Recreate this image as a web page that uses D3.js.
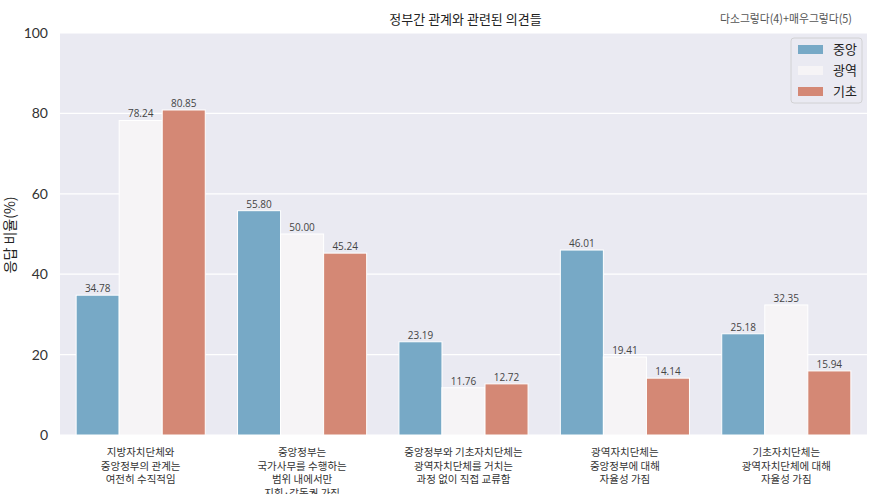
<!DOCTYPE html>
<html><head><meta charset="utf-8">
<script src="https://cdn.jsdelivr.net/npm/d3@7"></script>
<style>body{margin:0;background:#fff;} svg{display:block;font-family:"Noto Sans CJK KR","Noto Sans",sans-serif;}</style>
</head><body>
<svg id="c" width="886" height="494"></svg>
<script>
const categories = [
  ["지방자치단체와","중앙정부의 관계는","여전히 수직적임"],
  ["중앙정부는","국가사무를 수행하는","범위 내에서만","지휘·감독권 가짐"],
  ["중앙정부와 기초자치단체는","광역자치단체를 거치는","과정 없이 직접 교류함"],
  ["광역자치단체는","중앙정부에 대해","자율성 가짐"],
  ["기초자치단체는","광역자치단체에 대해","자율성 가짐"]
];
const seriesNames = ["중앙","광역","기초"];
const central = [34.78, 55.80, 23.19, 46.01, 25.18];
const regional = [78.24, 50.00, 11.76, 19.41, 32.35];
const basic = [80.85, 45.24, 12.72, 14.14, 15.94];
const colors = ["#77a9c6","#f6f4f6","#d48875"];
const yTicks = [0,20,40,60,80,100];
const title = "정부간 관계와 관련된 의견들";
const note = "다소그렇다(4)+매우그렇다(5)";
const yLabel = "응답 비율(%)";

const series = [central, regional, basic];
const svg = d3.select("#c");
const L=60, R=867, T=33, B=435;
const x0 = d3.scaleBand().domain(d3.range(categories.length)).range([L,R]).paddingInner(0.2).paddingOuter(0.1);
const x1 = d3.scaleBand().domain(d3.range(3)).range([0,x0.bandwidth()]);
const y = d3.scaleLinear().domain([0,100]).range([B,T]);

svg.append("rect").attr("x",L).attr("y",T).attr("width",R-L).attr("height",B-T).attr("fill","#eaeaf2");
svg.append("g").selectAll("line").data(yTicks).join("line")
  .attr("x1",L).attr("x2",R).attr("y1",d=>y(d)).attr("y2",d=>y(d)).attr("stroke","#fff").attr("stroke-width",1.2);

const yAxis = d3.axisLeft(y).tickValues(yTicks).tickSize(0).tickPadding(12);
const ga = svg.append("g").attr("transform",`translate(${L},0)`).call(yAxis);
ga.select(".domain").remove();
ga.selectAll("text").attr("font-size",14).attr("fill","#333").attr("font-family","Lato, 'Noto Sans', sans-serif");

const groups = svg.append("g").selectAll("g").data(categories).join("g")
  .attr("transform",(d,i)=>`translate(${x0(i)},0)`);
groups.each(function(cat,i){
  const g = d3.select(this);
  series.forEach((s,j)=>{
    g.append("rect").attr("x",x1(j)).attr("width",x1.bandwidth())
      .attr("y",y(s[i])).attr("height",B-y(s[i]))
      .attr("fill",colors[j]).attr("stroke","#fff").attr("stroke-width",1);
    g.append("text").attr("x",x1(j)+x1.bandwidth()/2).attr("y",y(s[i])-3)
      .attr("text-anchor","middle").attr("font-size",10).attr("fill","#444")
      .attr("font-family","'Open Sans','Noto Sans',sans-serif")
      .text(s[i].toFixed(2));
  });
  const t = g.append("text").attr("text-anchor","middle").attr("font-size",10.5).attr("fill","#333");
  cat.forEach((line,k)=>{
    t.append("tspan").attr("x",x0.bandwidth()/2).attr("y",456+k*13.5).text(line);
  });
});

svg.append("text").attr("x",(L+R)/2+2).attr("y",24).attr("text-anchor","middle").attr("font-size",13).attr("fill","#222").text(title);
svg.append("text").attr("x",852).attr("y",23).attr("text-anchor","end").attr("font-size",11.5).attr("fill","#555").attr("textLength",132).attr("lengthAdjust","spacingAndGlyphs").text(note);
svg.append("text").attr("transform","translate(15,235) rotate(-90)").attr("text-anchor","middle").attr("font-size",14).attr("fill","#222").text(yLabel);

const lg = svg.append("g").attr("transform","translate(791,38)");
lg.append("rect").attr("width",71).attr("height",65).attr("rx",3).attr("fill","#eaeaf2").attr("stroke","#ccc").attr("stroke-width",0.8);
seriesNames.forEach((n,j)=>{
  lg.append("rect").attr("x",7).attr("y",7+j*21).attr("width",25).attr("height",9).attr("fill",colors[j]);
  lg.append("text").attr("x",42).attr("y",16+j*21).attr("font-size",13).attr("fill","#222").text(n);
});
</script>
</body></html>
